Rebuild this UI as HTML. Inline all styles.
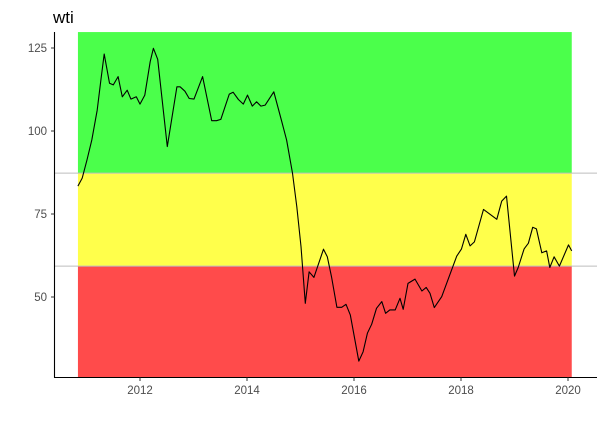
<!DOCTYPE html>
<html><head><meta charset="utf-8">
<style>
html,body{margin:0;padding:0;background:#fff;}
svg{display:block;font-family:"Liberation Sans",Arial,sans-serif;}
</style></head>
<body>
<svg id="chart" width="605" height="422" viewBox="0 0 605 422" xmlns="http://www.w3.org/2000/svg">
<text x="53" y="23" font-size="17" fill="#000">wti</text>
<g id="bands"></g>
<g id="hlines"></g>
<g id="series"></g>
<g id="axes"></g>
</svg>
<script>
const dates = [2010.84,2010.92,2011.01,2011.10,2011.20,2011.27,2011.33,2011.43,2011.50,2011.59,2011.67,2011.76,2011.83,2011.93,2012.00,2012.09,2012.19,2012.25,2012.33,2012.51,2012.69,2012.75,2012.84,2012.92,2013.01,2013.17,2013.34,2013.43,2013.51,2013.67,2013.74,2013.84,2013.93,2014.01,2014.10,2014.18,2014.26,2014.34,2014.50,2014.65,2014.74,2014.85,2014.93,2015.01,2015.09,2015.16,2015.25,2015.43,2015.50,2015.58,2015.68,2015.77,2015.85,2015.93,2016.09,2016.17,2016.25,2016.33,2016.42,2016.52,2016.59,2016.67,2016.77,2016.86,2016.92,2017.01,2017.14,2017.27,2017.35,2017.42,2017.50,2017.64,2017.92,2018.01,2018.09,2018.17,2018.25,2018.42,2018.67,2018.76,2018.85,2019.00,2019.07,2019.18,2019.26,2019.34,2019.41,2019.51,2019.60,2019.66,2019.74,2019.84,2020.01,2020.07];
const wti = [83.4,85.8,91.3,97.3,106.3,115.4,123.2,114.4,113.9,116.4,110.3,112.3,109.6,110.3,108.1,110.8,120.9,124.9,121.6,95.3,113.3,113.3,112.0,109.8,109.6,116.4,103.1,103.1,103.5,111.1,111.7,109.5,108.1,110.8,107.5,108.8,107.5,107.8,111.8,102.8,97.3,87.3,77.2,65.2,48.1,57.6,55.9,64.4,62.1,56.1,46.9,46.9,47.8,44.6,30.7,33.5,39.1,41.8,46.6,48.6,45.1,46.1,46.1,49.6,46.3,54.1,55.4,51.8,52.9,51.1,46.8,50.1,62.3,64.5,68.9,65.4,66.6,76.4,73.4,78.9,80.4,56.3,58.9,64.5,66.2,71.0,70.5,63.3,63.9,58.9,62.1,59.3,65.7,63.9];
const bandLows = [87.3, 59.3, 25.9];
const bandHighs = [129.8, 87.3, 59.3];
const bandNames = ['green-zone','yellow-zone','red-zone'];
const bandColors = ['#4bff4b','#ffff4b','#ff4b4b'];
const thresholds = [87.3, 59.3];
const xTicks = [2012, 2014, 2016, 2018, 2020];
const yTicks = [50, 75, 100, 125];

const X = v => 140 + (v - 2012) * 53.5;
const Y = v => 297 - (v - 50) * 3.32;
const NS = 'http://www.w3.org/2000/svg';
function mk(tag, parent, attrs){const e=document.createElementNS(NS,tag);for(const k in attrs)e.setAttribute(k,attrs[k]);parent.appendChild(e);return e;}

const bands = document.getElementById('bands');
const x0 = X(dates[0]), x1 = X(dates[dates.length-1]);
bandLows.forEach((lo,i)=>{
  const r = mk('rect', bands, {x:x0, y:Y(bandHighs[i]), width:x1-x0, height:Y(lo)-Y(bandHighs[i]), fill:bandColors[i]});
  
  
});
const hl = document.getElementById('hlines');
thresholds.forEach(t=>{
  const l = mk('line', hl, {x1:55, x2:597, y1:Y(t), y2:Y(t), stroke:'#bdbdbd', 'stroke-width':1});
  
  
});
const series = document.getElementById('series');
const pts = dates.map((d,i)=>X(d).toFixed(1)+','+Y(wti[i]).toFixed(1)).join(' ');
const pl = mk('polyline', series, {points:pts, fill:'none', stroke:'#000', 'stroke-width':1.1, 'stroke-linejoin':'round'});



const axes = document.getElementById('axes');
const ya = mk('line', axes, {x1:54.5, x2:54.5, y1:32, y2:377.5, stroke:'#000', 'stroke-width':1.1});


const xa = mk('line', axes, {x1:54, x2:597, y1:377.5, y2:377.5, stroke:'#000', 'stroke-width':1.1});


yTicks.forEach(t=>{
  const tk = mk('line', axes, {x1:51, x2:54.5, y1:Y(t), y2:Y(t), stroke:'#333', 'stroke-width':1});
  
  
  const tx = mk('text', axes, {x:47, y:Y(t)+4, 'font-size':11.5, fill:'#4d4d4d', 'text-anchor':'end'});
  tx.textContent = t;
  
  
});
xTicks.forEach(t=>{
  const tk = mk('line', axes, {x1:X(t), x2:X(t), y1:377.5, y2:381, stroke:'#333', 'stroke-width':1});
  
  
  const tx = mk('text', axes, {x:X(t), y:394, 'font-size':11.5, fill:'#4d4d4d', 'text-anchor':'middle'});
  tx.textContent = t;
  
  
});
</script>
</body></html>
